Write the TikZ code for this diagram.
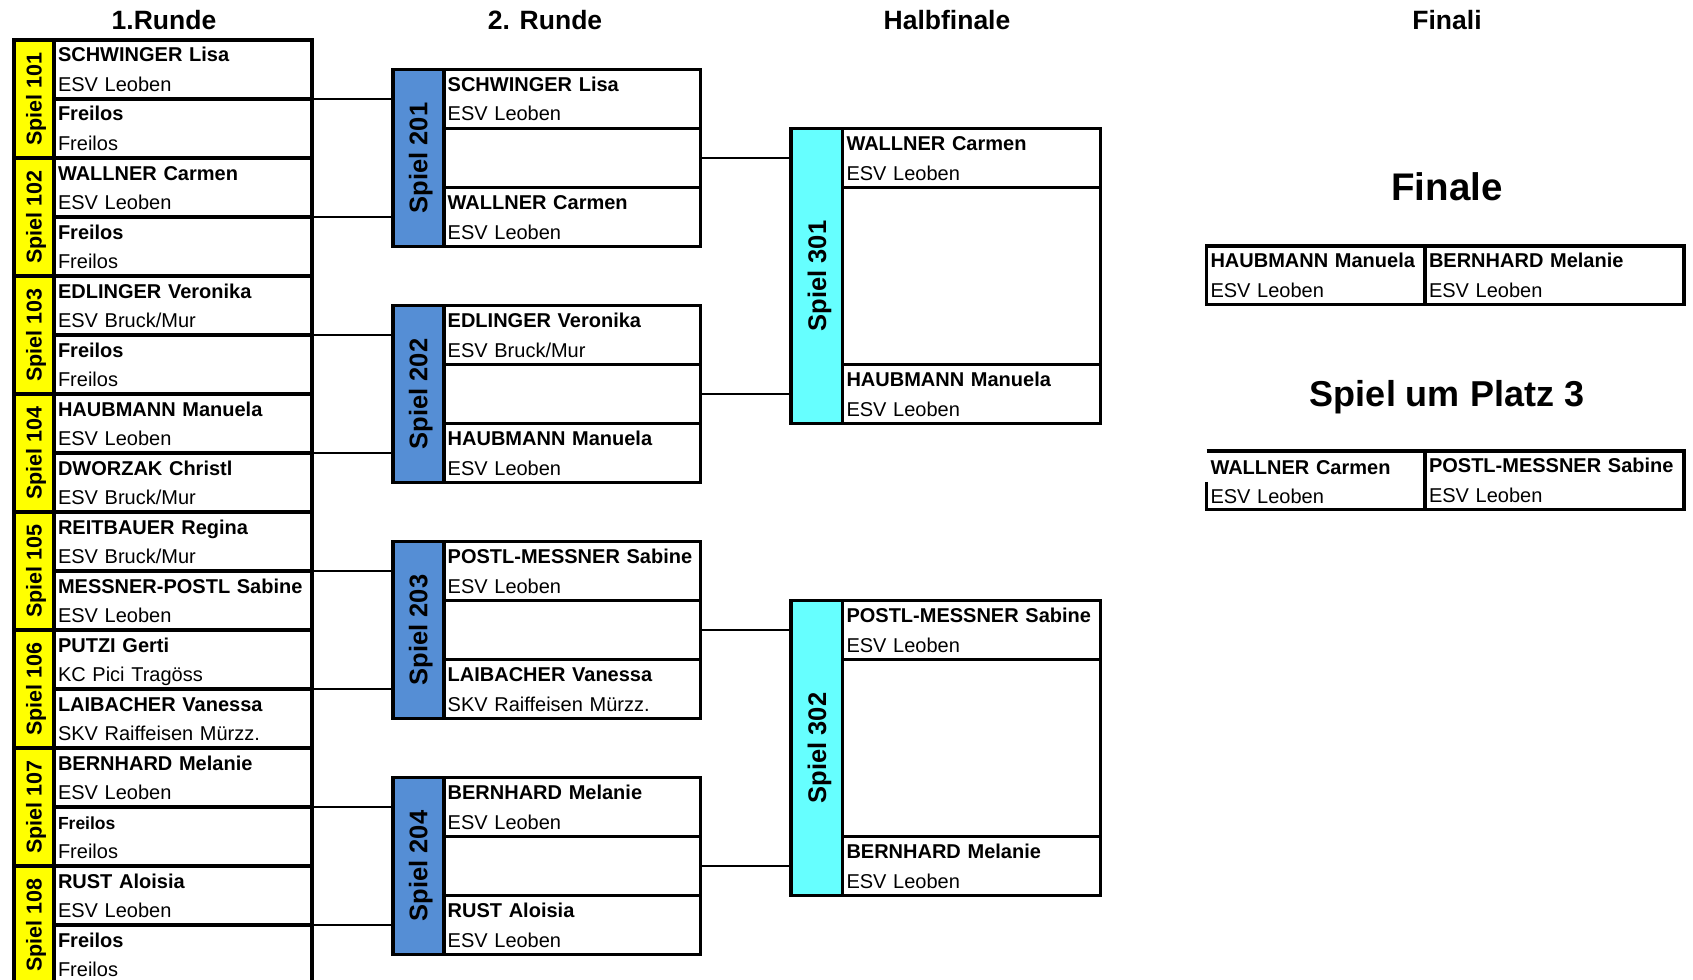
\documentclass[tikz,border=0pt]{standalone}
\usepackage{fontspec}
\setmainfont{Liberation Sans}
\usepackage{tikz}
\usetikzlibrary{positioning}

\definecolor{spielgelb}{RGB}{255,255,0}
\definecolor{spielblau}{RGB}{85,142,213}
\definecolor{spieltuerkis}{RGB}{102,255,255}

\tikzset{
  cell/.style={draw, line width=3.8pt, anchor=north west, inner xsep=4pt, inner ysep=0pt,
    outer sep=0pt, minimum height=59pt, text width=#1, align=left,
    text height=14.5pt, text depth=29.5pt, font=\fontsize{20}{29.5}\selectfont},
  emptycell/.style={draw, line width=2.6pt, anchor=north west, inner sep=0pt,
    outer sep=0pt, minimum width=#1},
  lab/.style={draw, line width=3.8pt, rotate=90, inner sep=0pt, outer sep=0pt, text depth=0pt},
  labA/.style={lab, fill=spielgelb, minimum width=118pt, minimum height=40pt,
    font=\bfseries\fontsize{21.5}{22}\selectfont, text height=15.4pt},
  labB/.style={lab, fill=spielblau, minimum width=177pt, minimum height=51pt,
    font=\bfseries\fontsize{25.5}{26}\selectfont, text height=18.3pt},
  labC/.style={lab, fill=spieltuerkis, minimum width=295pt, minimum height=51.2pt,
    font=\bfseries\fontsize{25.5}{26}\selectfont, text height=18.3pt},
  conn/.style={line width=2.6pt},
  head/.style={inner sep=0pt, text depth=0pt, text height=19pt,
    font=\bfseries\fontsize{26.5}{30}\selectfont},
  bighead/.style={inner sep=0pt, text depth=0pt, text height=27pt,
    font=\bfseries\fontsize{#1}{#1}\selectfont},
}

\begin{document}
\begin{tikzpicture}[x=1pt, y=-1pt]
  \useasboundingbox (0,0) rectangle (1693,979);
  \clip (0,0) rectangle (1693,979);
  \fill[white] (0,0) rectangle (1693,979);

  % Ueberschriften
  \node[head] (h1) at (164,20) {1.Runde};
  \node[head] (h2) at (545,20) {2. Runde};
  \node[head] (h3) at (947,20) {Halbfinale};
  \node[head] (h4) at (1447,20) {Finali};

  % 1. Runde
  \foreach \k in {1,...,8}
    \node[labA] (sp10\k) at (34,{99+118*(\k-1)}) {Spiel 10\k};
  \foreach \nm/\cl [count=\i from 0] in {
      SCHWINGER Lisa/ESV Leoben, Freilos/Freilos,
      WALLNER Carmen/ESV Leoben, Freilos/Freilos,
      EDLINGER Veronika/{ESV Bruck/Mur}, Freilos/Freilos,
      HAUBMANN Manuela/ESV Leoben, DWORZAK Christl/{ESV Bruck/Mur},
      REITBAUER Regina/{ESV Bruck/Mur}, MESSNER-POSTL Sabine/ESV Leoben,
      PUTZI Gerti/KC Pici Tragöss, LAIBACHER Vanessa/SKV Raiffeisen Mürzz.,
      BERNHARD Melanie/ESV Leoben, {\fontsize{17.5}{29.5}\selectfont Freilos}/Freilos,
      RUST Aloisia/ESV Leoben, Freilos/Freilos}
    \node[cell=250pt] (r1s\i) at (54,{40+59*\i}) {{\bfseries\nm}\\\cl};

  % 2. Runde
  \foreach \k/\na/\ca/\nb/\cb in {
      1/SCHWINGER Lisa/ESV Leoben/WALLNER Carmen/ESV Leoben,
      2/EDLINGER Veronika/{ESV Bruck/Mur}/HAUBMANN Manuela/ESV Leoben,
      3/POSTL-MESSNER Sabine/ESV Leoben/LAIBACHER Vanessa/SKV Raiffeisen Mürzz.,
      4/BERNHARD Melanie/ESV Leoben/RUST Aloisia/ESV Leoben} {
    \node[labB] (sp20\k) at (418.2,{158+236*(\k-1)}) {Spiel 20\k};
    \node[emptycell=256.8pt, minimum height=59pt] (r2m\k) at (443.7,{128.5+236*(\k-1)}) {};
    \node[cell=248.8pt] (r2a\k) at (443.7,{69.5+236*(\k-1)}) {{\bfseries\na}\\\ca};
    \node[cell=248.8pt] (r2b\k) at (443.7,{187.5+236*(\k-1)}) {{\bfseries\nb}\\\cb};
  }

  % Halbfinale
  \foreach \k/\na/\nb in {1/WALLNER Carmen/HAUBMANN Manuela,
      2/POSTL-MESSNER Sabine/BERNHARD Melanie} {
    \node[labC] (sp30\k) at (816.9,{276+472*(\k-1)}) {Spiel 30\k};
    \node[emptycell=258pt, minimum height=177pt] (r3m\k) at (842.5,{187.5+472*(\k-1)}) {};
    \node[cell=250pt] (r3a\k) at (842.5,{128.5+472*(\k-1)}) {{\bfseries\na}\\ESV Leoben};
    \node[cell=250pt] (r3b\k) at (842.5,{364.5+472*(\k-1)}) {{\bfseries\nb}\\ESV Leoben};
  }

  % Verbindungen
  \foreach \i in {0,2,...,14} {
    \pgfmathtruncatemacro\k{201+\i/4}
    \draw[conn] (r1s\i.south east) -- (r1s\i.south east -| sp\k.north);
  }
  \foreach \k in {1,...,4} {
    \pgfmathtruncatemacro\j{301+(\k-1)/2}
    \draw[conn] (r2m\k.east) -- (r2m\k.east -| sp\j.north);
  }

  % Finali
  \node[bighead=38.5] (finale) at (1447,186.5) {Finale};
  \node[cell=210.5pt, minimum height=58.5pt] (fa) at (1206.5,246) {{\bfseries HAUBMANN Manuela}\\ESV Leoben};
  \node[cell=250.8pt, minimum height=58.5pt] (fb) at (1425,246) {{\bfseries BERNHARD Melanie}\\ESV Leoben};

  \node[bighead=36] (platz3) at (1447,393.3) {Spiel um Platz 3};
  \node[cell=210.5pt, minimum height=58.5pt, draw=none, yshift=-1.5pt] (pa) at (1206.5,451) {{\bfseries WALLNER Carmen}\\ESV Leoben};
  \node[cell=250.8pt, minimum height=58.5pt] (pb) at (1425,451) {{\bfseries POSTL-MESSNER Sabine}\\ESV Leoben};
  \draw[line width=3.8pt] (pa.north west |- pb.north) -- (pb.north west);
  \draw[line width=3.8pt] (pa.west) -- (pa.south west |- pb.south) -- (pb.south west);
\end{tikzpicture}
\end{document}
